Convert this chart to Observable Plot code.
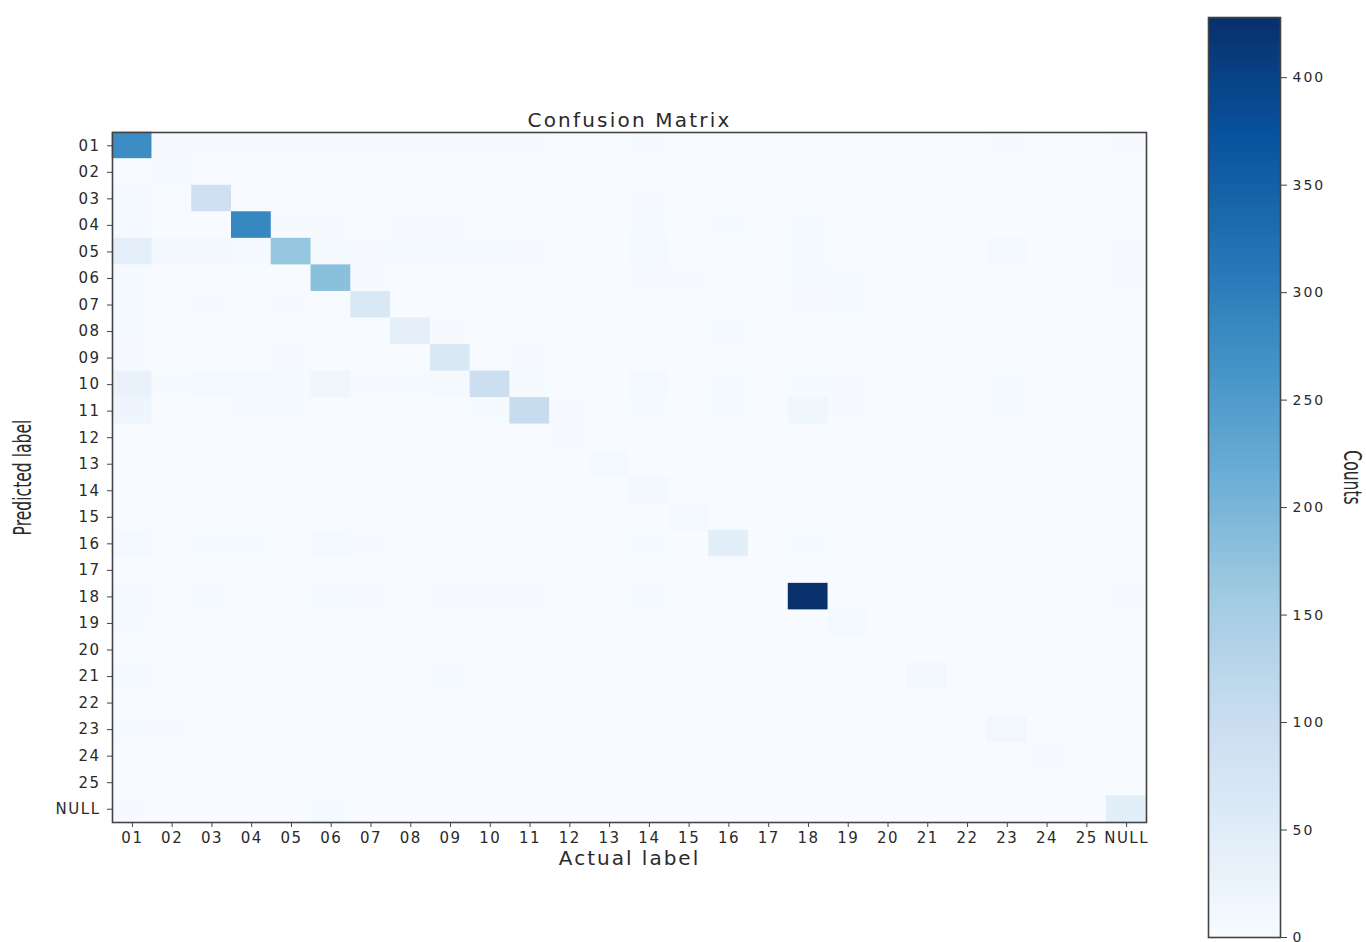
<!DOCTYPE html>
<html>
<head>
<meta charset="utf-8">
<script src="https://cdn.jsdelivr.net/npm/d3@7"></script>
<script src="https://cdn.jsdelivr.net/npm/@observablehq/plot@0.6"></script>
<style>
  html, body { margin: 0; padding: 0; background: #fff; }
  #wrap { position: relative; width: 1366px; height: 942px; overflow: hidden; background: #fff; }
  #main { position: absolute; left: 0; top: 0; }
  #cbar { position: absolute; left: 1180px; top: 0; }
  svg text { fill: #2a2a2a; }
  g[aria-label="x-axis tick label"] text, g[aria-label="y-axis tick label"] text { letter-spacing: 1.5px; }
  #cbar g[aria-label="y-axis tick label"] text { letter-spacing: 2px; }
</style>
</head>
<body>
<div id="wrap"><div id="main"></div><div id="cbar"></div></div>
<script>
const labels = ["01","02","03","04","05","06","07","08","09","10","11","12","13","14","15","16","17","18","19","20","21","22","23","24","25","NULL"];

// rows = predicted label, columns = actual label
const counts = [
  [275,3,2,2,2,2,2,3,3,3,2,0,0,2,0,0,0,0,0,0,0,0,3,0,0,3],
  [0,8,0,0,0,0,0,0,0,0,0,0,0,0,0,0,0,0,0,0,0,0,0,0,0,0],
  [8,0,90,0,0,0,0,0,0,0,0,0,0,3,0,0,0,0,0,0,0,0,0,0,0,0],
  [8,0,0,285,2,3,0,3,3,0,0,0,0,4,0,4,0,5,0,0,0,0,0,0,0,0],
  [40,10,10,8,170,5,3,5,5,5,3,0,0,6,0,0,0,4,0,0,0,0,6,0,0,3],
  [5,0,0,0,0,180,3,0,0,0,0,0,0,3,3,0,0,5,4,0,0,0,0,0,0,3],
  [4,0,2,0,2,0,65,0,0,0,0,0,0,0,0,0,0,2,4,0,0,0,0,0,0,0],
  [4,0,0,0,0,0,0,40,3,0,0,0,0,0,0,4,0,0,0,0,0,0,0,0,0,0],
  [3,0,0,0,2,0,0,0,65,0,2,0,0,0,0,0,0,0,0,0,0,0,0,0,0,0],
  [30,4,8,8,5,18,3,5,7,95,4,0,0,7,0,4,0,5,3,0,0,0,5,0,0,0],
  [20,0,0,4,5,0,0,0,0,4,105,3,0,4,0,4,0,18,3,0,0,0,4,0,0,0],
  [0,0,0,0,0,0,0,0,0,0,0,3,0,0,0,0,0,0,0,0,0,0,0,0,0,0],
  [0,0,0,0,0,0,0,0,0,0,0,0,8,0,0,0,0,0,0,0,0,0,0,0,0,0],
  [0,0,0,0,0,0,0,0,0,0,0,0,0,10,0,0,0,0,0,0,0,0,0,0,0,0],
  [0,0,0,0,0,0,0,0,0,0,0,0,0,0,6,0,0,0,0,0,0,0,0,0,0,0],
  [7,0,4,4,0,6,3,0,0,0,0,0,0,4,0,45,0,4,0,0,0,0,0,0,0,0],
  [0,0,0,0,0,0,0,0,0,0,0,0,0,0,0,0,0,0,0,0,0,0,0,0,0,0],
  [8,0,5,0,0,5,2,0,2,2,2,0,0,4,0,0,0,428,0,0,0,0,0,0,0,2],
  [4,0,0,0,0,0,0,0,0,0,0,0,0,0,0,0,0,0,8,0,0,0,0,0,0,0],
  [0,0,0,0,0,0,0,0,0,0,0,0,0,0,0,0,0,0,0,0,0,0,0,0,0,0],
  [6,0,0,0,0,0,0,0,4,0,0,0,0,0,0,0,0,0,0,0,9,0,0,0,0,0],
  [0,0,0,0,0,0,0,0,0,0,0,0,0,0,0,0,0,0,0,0,0,0,0,0,0,0],
  [5,2,0,0,0,0,0,0,0,0,0,0,0,0,0,0,0,0,0,0,0,0,12,0,0,0],
  [0,0,0,0,0,0,0,0,0,0,0,0,0,0,0,0,0,0,0,0,0,0,0,3,0,0],
  [0,0,0,0,0,0,0,0,0,0,0,0,0,0,0,0,0,0,0,0,0,0,0,0,0,0],
  [2,0,0,0,0,4,0,0,0,0,0,0,0,0,0,0,0,0,0,0,0,0,0,0,0,45]
];

const colorbarTicks = [0,50,100,150,200,250,300,350,400];
const vmax = 428;
const blues9 = ["#f7fbff","#deebf7","#c6dbef","#9ecae1","#6baed6","#4292c6","#2171b5","#08519c","#08306b"];

const cells = labels.flatMap((p, i) => labels.map((a, j) => ({actual: a, predicted: p, count: counts[i][j]})));
const colorScale = {type: "linear", domain: [0, vmax], interpolate: d3.piecewise(d3.interpolateRgb, blues9)};

const main = Plot.plot({
  width: 1200, height: 942,
  marginLeft: 112, marginRight: 54, marginTop: 132, marginBottom: 120,
  style: {fontFamily: "'DejaVu Sans', sans-serif", fontSize: "15px", background: "white", color: "#2a2a2a"},
  x: {domain: labels, padding: 0, round: false, label: null},
  y: {domain: labels, padding: 0, round: false, label: null},
  color: colorScale,
  marks: [
    Plot.cell(cells, {x: "actual", y: "predicted", fill: "count", inset: -0.3}),
    Plot.frame({stroke: "#444", strokeWidth: 1.6}),
    Plot.axisX({tickSize: 5, tickPadding: 5, fontSize: 15, label: null, stroke: "#444"}),
    Plot.axisY({tickSize: 5, tickPadding: 7, fontSize: 15, label: null, stroke: "#444"}),
    Plot.text(["Confusion Matrix"], {frameAnchor: "top", lineAnchor: "middle", textAnchor: "middle", dy: -12, fontSize: 20}),
    Plot.text(["Actual label"], {frameAnchor: "bottom", lineAnchor: "middle", textAnchor: "middle", dy: 36, fontSize: 20}),
    Plot.text(["Predicted label"], {frameAnchor: "left", lineAnchor: "middle", textAnchor: "middle", dx: -89, rotate: -90, fontSize: 24})
  ]
});
document.getElementById("main").appendChild(main);

const stops = d3.range(0, vmax, 0.5);
const cbar = Plot.plot({
  width: 186, height: 942,
  marginLeft: 28, marginRight: 86, marginTop: 17, marginBottom: 5,
  style: {fontFamily: "'DejaVu Sans', sans-serif", fontSize: "14px", background: "white", color: "#2a2a2a"},
  x: {axis: null},
  y: {domain: [0, vmax], axis: null},
  color: colorScale,
  marks: [
    Plot.rect(stops, {y1: d => d, y2: d => Math.min(vmax, d + 0.6), fill: d => d, shapeRendering: "crispEdges"}),
    Plot.frame({stroke: "#444", strokeWidth: 1.6}),
    Plot.axisY({anchor: "right", ticks: colorbarTicks, tickSize: 6, tickPadding: 6, fontSize: 14, label: null, stroke: "#444"}),
    Plot.text(["Counts"], {frameAnchor: "right", lineAnchor: "middle", textAnchor: "middle", dx: 71, rotate: 90, fontSize: 24})
  ]
});
document.getElementById("cbar").appendChild(cbar);

// typographic adjustments to mimic the reference's stretched / condensed text
function styleText(svg, content, fn) {
  d3.select(svg).selectAll("text").filter(function() { return this.textContent === content; }).each(fn);
}
styleText(main, "Confusion Matrix", function() { this.style.letterSpacing = "2.2px"; });
styleText(main, "Actual label", function() { this.style.letterSpacing = "2px"; });
const condense = function() {
  const t = this.getAttribute("transform") || "";
  const bb = this.getBBox();
  const cx = bb.x + bb.width / 2, cy = bb.y + bb.height / 2;
  this.setAttribute("transform", `${t} translate(${cx},${cy}) scale(0.65,1) translate(${-cx},${-cy})`);
};
styleText(main, "Predicted label", condense);
styleText(cbar, "Counts", condense);
</script>
</body>
</html>
